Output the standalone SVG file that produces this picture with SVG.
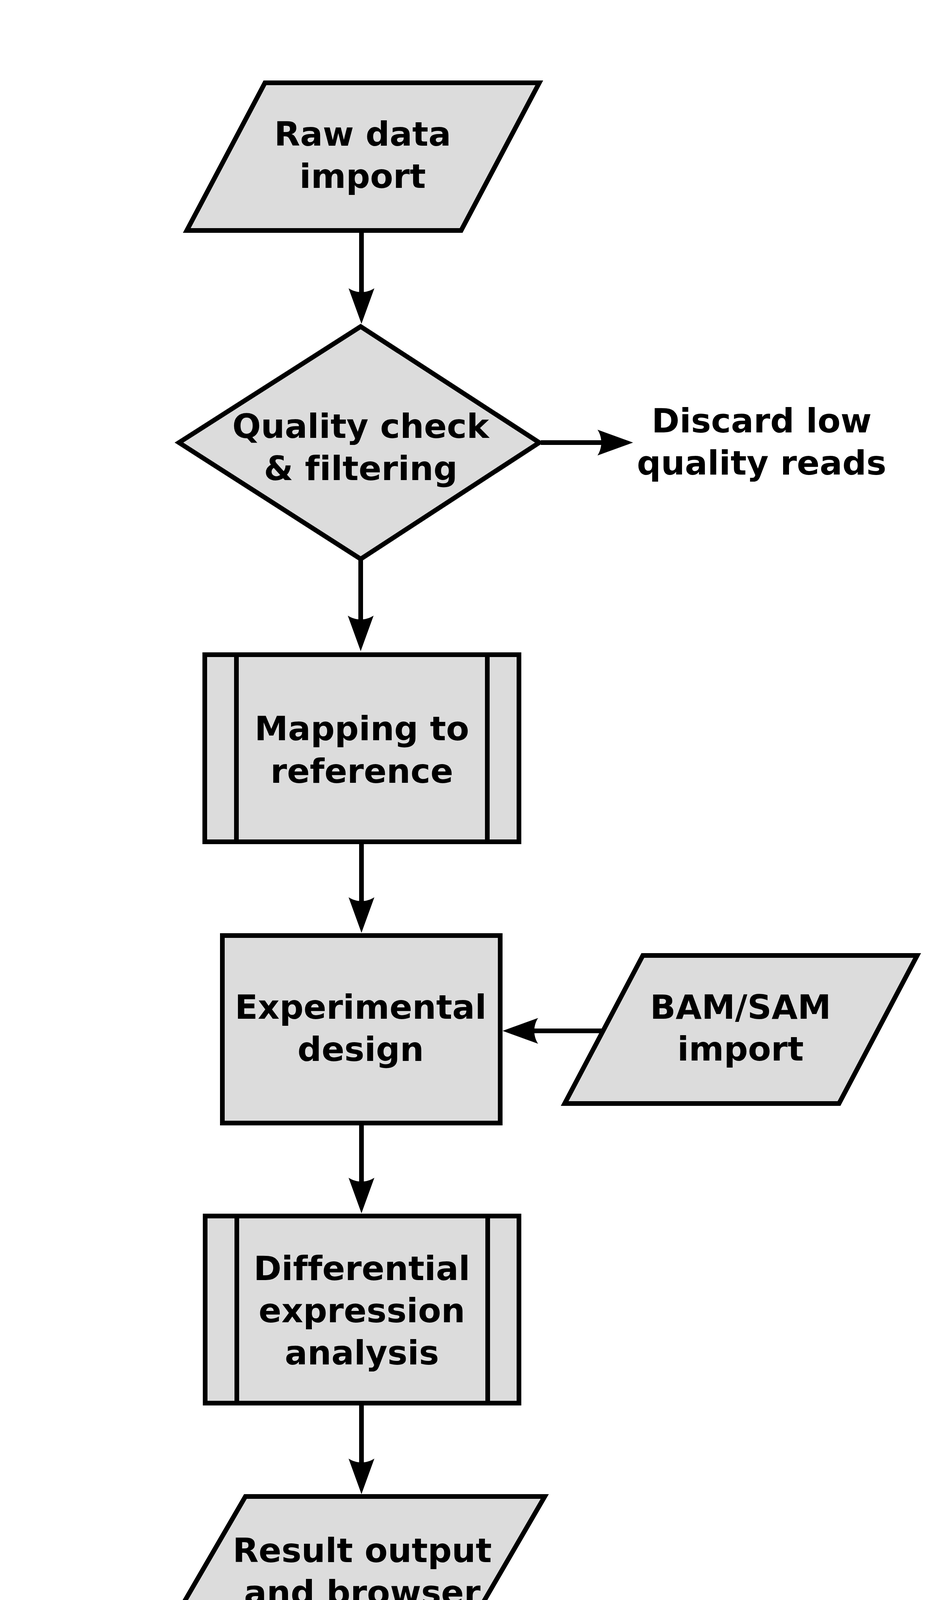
<svg xmlns="http://www.w3.org/2000/svg" width="2408" height="4430" viewBox="0 0 2408 4430">
  <defs>
    <style>
      .shape { fill: #dcdcdc; stroke: #000000; stroke-width: 12; stroke-linejoin: miter; stroke-miterlimit: 10; }
      .divider { fill: none; stroke: #000000; stroke-width: 12; }
      .label { font-family: "DejaVu Sans", "Liberation Sans", sans-serif; font-weight: bold; font-size: 86px; fill: #000000; text-anchor: middle; font-variant-ligatures: none; font-feature-settings: "liga" 0, "clig" 0; }
      .conn { fill: none; stroke: #000000; stroke-width: 12; marker-end: url(#arrow); }
    </style>
    <marker id="arrow" markerUnits="userSpaceOnUse" orient="auto" refX="10" refY="0" markerWidth="120" markerHeight="90" overflow="visible">
      <path d="M 0,-33 C 13,-13 13,13 0,33 L 91,0 Z" fill="#000000"/>
    </marker>
  </defs>

  <g id="connectors">
    <line class="conn" x1="925" y1="592" x2="925" y2="748"/>
    <line class="conn" x1="923" y1="1434" x2="923" y2="1586"/>
    <line class="conn" x1="925" y1="2157" x2="925" y2="2307"/>
    <line class="conn" x1="925" y1="2877" x2="925" y2="3025"/>
    <line class="conn" x1="925" y1="3594" x2="925" y2="3744"/>
    <line class="conn" x1="1384" y1="1133" x2="1539" y2="1133"/>
    <line class="conn" x1="1547" y1="2639" x2="1367" y2="2639"/>
  </g>

  <g id="node-raw-data-import">
    <polygon class="shape" points="678,212 1380,212 1180,590 478,590"/>
    <text class="label" x="928" y="373">Raw data</text>
    <text class="label" x="928" y="481">import</text>
  </g>

  <g id="node-quality-check">
    <polygon class="shape" points="923,836 1380,1133 923,1431 458,1133"/>
    <text class="label" x="923" y="1121">Quality check</text>
    <text class="label" x="923" y="1229">&amp; filtering</text>
  </g>

  <g id="node-discard">
    <text class="label" x="1949" y="1107">Discard low</text>
    <text class="label" x="1949" y="1215">quality reads</text>
  </g>

  <g id="node-mapping">
    <rect class="shape" x="524" y="1676" width="804" height="479"/>
    <line class="divider" x1="605" y1="1676" x2="605" y2="2155"/>
    <line class="divider" x1="1247" y1="1676" x2="1247" y2="2155"/>
    <text class="label" x="926" y="1895">Mapping to</text>
    <text class="label" x="926" y="2004">reference</text>
  </g>

  <g id="node-experimental-design">
    <rect class="shape" x="569" y="2395" width="711" height="480"/>
    <text class="label" x="923" y="2608">Experimental</text>
    <text class="label" x="923" y="2716">design</text>
  </g>

  <g id="node-bam-sam-import">
    <polygon class="shape" points="1645,2446 2347,2446 2147,2825 1445,2825"/>
    <text class="label" x="1895" y="2608">BAM/SAM</text>
    <text class="label" x="1895" y="2715">import</text>
  </g>

  <g id="node-differential-expression">
    <rect class="shape" x="525" y="3113" width="803" height="479"/>
    <line class="divider" x1="606" y1="3113" x2="606" y2="3592"/>
    <line class="divider" x1="1248" y1="3113" x2="1248" y2="3592"/>
    <text class="label" x="926" y="3277">Differential</text>
    <text class="label" x="926" y="3385">expression</text>
    <text class="label" x="926" y="3493">analysis</text>
  </g>

  <g id="node-result-output">
    <polygon class="shape" points="628,3831 1394,3831 1174,4210 408,4210"/>
    <text class="label" x="927" y="3999">Result output</text>
    <text class="label" x="927" y="4107"> and browser</text>
  </g>
</svg>
